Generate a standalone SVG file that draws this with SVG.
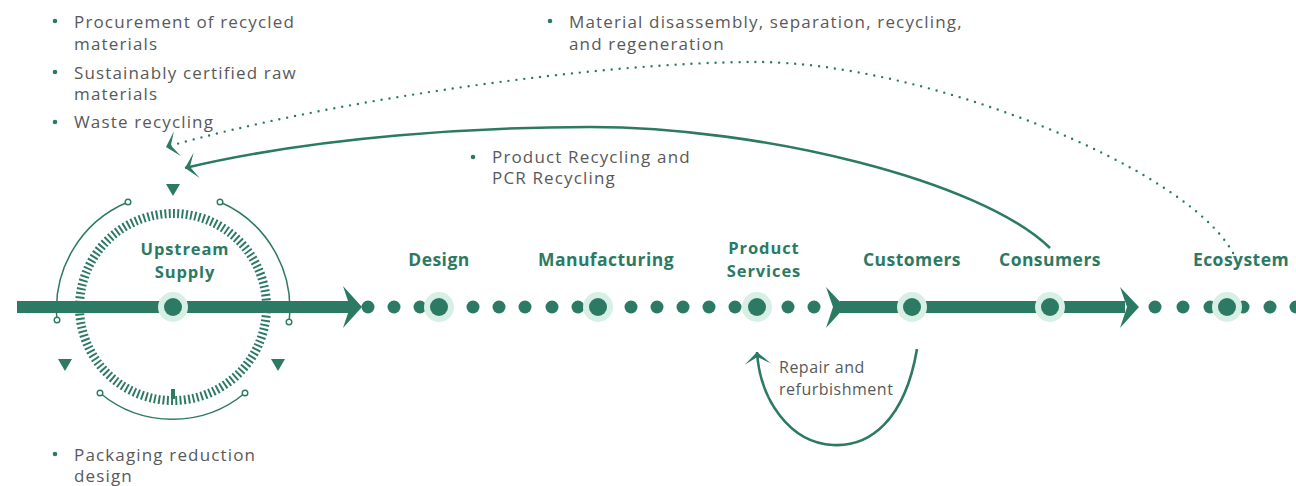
<svg xmlns="http://www.w3.org/2000/svg" width="1296" height="486" viewBox="0 0 1296 486">
<style>
.lbl{font-family:"Open Sans","Liberation Sans",sans-serif;font-weight:700;font-size:17.5px;fill:#2c7a63;text-anchor:middle;letter-spacing:0.45px}
.two{font-size:16.5px;letter-spacing:0.9px}
.txt{font-family:"Open Sans","Liberation Sans",sans-serif;font-size:17px;fill:#58595b;letter-spacing:1.15px}
.sm{font-size:16px;letter-spacing:0.5px}
.bul{fill:#2c7a63}
.ring{fill:#d7efe4}
.core{fill:#2c7a63}
.dot{fill:#2c7a63}
.bar{fill:#2c7a63}
.arc{fill:none;stroke:#2c7a63;stroke-width:1.5}
.end{fill:#fff;stroke:#2c7a63;stroke-width:1.4}
.tri{fill:#2c7a63}
.curve{fill:none;stroke:#2c7a63;stroke-width:2.6}
.dotted{fill:none;stroke:#2c7a63;stroke-width:2.4;stroke-linecap:round;stroke-dasharray:0 8}
</style>
<defs>
<marker id="barb" viewBox="0 0 14 26" refX="13" refY="13" markerWidth="14" markerHeight="26" markerUnits="userSpaceOnUse" orient="auto">
<path d="M13,13 L1,0 L8,13 L1,26 Z" fill="#2c7a63"/>
</marker>
</defs>

<!-- main flow line -->
<g id="flow">
<rect class="bar" x="17" y="301" width="333" height="12"/>
<polygon class="bar" points="343,286 362,307 343,328 350,307"/>
<g class="dot">
<circle cx="368" cy="307" r="6.5"/><circle cx="394" cy="307" r="6.5"/><circle cx="420" cy="307" r="6.5"/>
<circle cx="473" cy="307" r="6.5"/><circle cx="499" cy="307" r="6.5"/><circle cx="525" cy="307" r="6.5"/><circle cx="552" cy="307" r="6.5"/><circle cx="578" cy="307" r="6.5"/>
<circle cx="631" cy="307" r="6.5"/><circle cx="657" cy="307" r="6.5"/><circle cx="683" cy="307" r="6.5"/><circle cx="709" cy="307" r="6.5"/><circle cx="735" cy="307" r="6.5"/>
<circle cx="788" cy="307" r="6.5"/><circle cx="814" cy="307" r="6.5"/>
<circle cx="1155" cy="307" r="6.5"/><circle cx="1183" cy="307" r="6.5"/><circle cx="1210" cy="307" r="6.5"/><circle cx="1243" cy="307" r="6.5"/><circle cx="1270" cy="307" r="6.5"/><circle cx="1296" cy="307" r="6.5"/>
</g>
<polygon class="bar" points="826,287 845,307 826,328 833,307"/>
<rect class="bar" x="840" y="301" width="285" height="12"/>
<polygon class="bar" points="1120,287 1139,307 1120,328 1127,307"/>
</g>

<!-- upstream supply -->
<g id="upstream">
<circle cx="173" cy="307" r="93.5" fill="none" stroke="#2c7a63" stroke-width="9" pathLength="136" stroke-dasharray="0.45 0.55"/>
<rect x="171" y="389" width="4" height="10" fill="#2c7a63"/>
<rect x="17" y="301" width="333" height="12" class="bar"/>
<path class="arc" d="M57,320 A116,116 0 0 1 128,202"/>
<path class="arc" d="M220,202 A116,116 0 0 1 289,322"/>
<path class="arc" d="M100,393 A113,113 0 0 0 245,393"/>
<circle class="end" cx="57" cy="320" r="2.8"/><circle class="end" cx="128" cy="202" r="2.8"/>
<circle class="end" cx="220" cy="202" r="2.8"/><circle class="end" cx="289" cy="322" r="2.8"/>
<circle class="end" cx="100" cy="393" r="2.8"/><circle class="end" cx="245" cy="393" r="2.8"/>
<polygon class="tri" points="166,184 180,184 173,196"/>
<polygon class="tri" points="58,359 72,359 65,371"/>
<polygon class="tri" points="271,359 285,359 278,371"/>
<circle class="ring" cx="173" cy="307" r="15"/><circle class="core" cx="173" cy="307" r="9"/>
<text class="lbl two" x="185" y="255">Upstream</text>
<text class="lbl two" x="185" y="278">Supply</text>
</g>

<g id="design">
<circle class="ring" cx="439" cy="307" r="15"/><circle class="core" cx="439" cy="307" r="9"/>
<text class="lbl" x="439" y="266">Design</text>
</g>
<g id="manufacturing">
<circle class="ring" cx="598" cy="307" r="15"/><circle class="core" cx="598" cy="307" r="9"/>
<text class="lbl" x="606" y="266">Manufacturing</text>
</g>
<g id="product-services">
<circle class="ring" cx="757" cy="307" r="15"/><circle class="core" cx="757" cy="307" r="9"/>
<text class="lbl two" x="764" y="254">Product</text>
<text class="lbl two" x="764" y="277">Services</text>
</g>
<g id="customers">
<circle class="ring" cx="912" cy="307" r="15"/><circle class="core" cx="912" cy="307" r="9"/>
<text class="lbl" x="912" y="266">Customers</text>
</g>
<g id="consumers">
<circle class="ring" cx="1050" cy="307" r="15"/><circle class="core" cx="1050" cy="307" r="9"/>
<text class="lbl" x="1050" y="266">Consumers</text>
</g>
<g id="ecosystem">
<circle class="ring" cx="1227" cy="307" r="15"/><circle class="core" cx="1227" cy="307" r="9"/>
<text class="lbl" x="1241" y="266">Ecosystem</text>
</g>

<!-- connectors -->
<g id="connectors">
<path class="dotted" d="M1233,253 C1185,165 920,62 756,62 C600,62 330,100 166,147" marker-end="url(#barb)"/>
<path class="curve" d="M1050,248 C980,180 760,127 590,127 C480,127 320,136 185,168" marker-end="url(#barb)"/>
<path class="curve" d="M917,349 C905,420 870,447 833,445 C790,443 760,400 757,352" marker-end="url(#barb)"/>
</g>

<!-- annotations -->
<g id="notes-upstream">
<circle class="bul" cx="55" cy="21" r="2.3"/>
<text class="txt" x="74" y="28">Procurement of recycled</text>
<text class="txt" x="74" y="50">materials</text>
<circle class="bul" cx="55" cy="72" r="2.3"/>
<text class="txt" x="74" y="79">Sustainably certified raw</text>
<text class="txt" x="74" y="100">materials</text>
<circle class="bul" cx="55" cy="122" r="2.3"/>
<text class="txt" x="74" y="128">Waste recycling</text>
</g>
<g id="notes-ecosystem">
<circle class="bul" cx="550" cy="21" r="2.3"/>
<text class="txt" x="569" y="28">Material disassembly, separation, recycling,</text>
<text class="txt" x="569" y="50">and regeneration</text>
</g>
<g id="notes-consumers">
<circle class="bul" cx="473" cy="157" r="2.3"/>
<text class="txt" x="492" y="163">Product Recycling and</text>
<text class="txt" x="492" y="184">PCR Recycling</text>
</g>
<g id="notes-repair">
<text class="txt sm" x="779" y="373">Repair and</text>
<text class="txt sm" x="779" y="395">refurbishment</text>
</g>
<g id="notes-packaging">
<circle class="bul" cx="55" cy="454" r="2.3"/>
<text class="txt" x="74" y="461">Packaging reduction</text>
<text class="txt" x="74" y="482">design</text>
</g>
</svg>
